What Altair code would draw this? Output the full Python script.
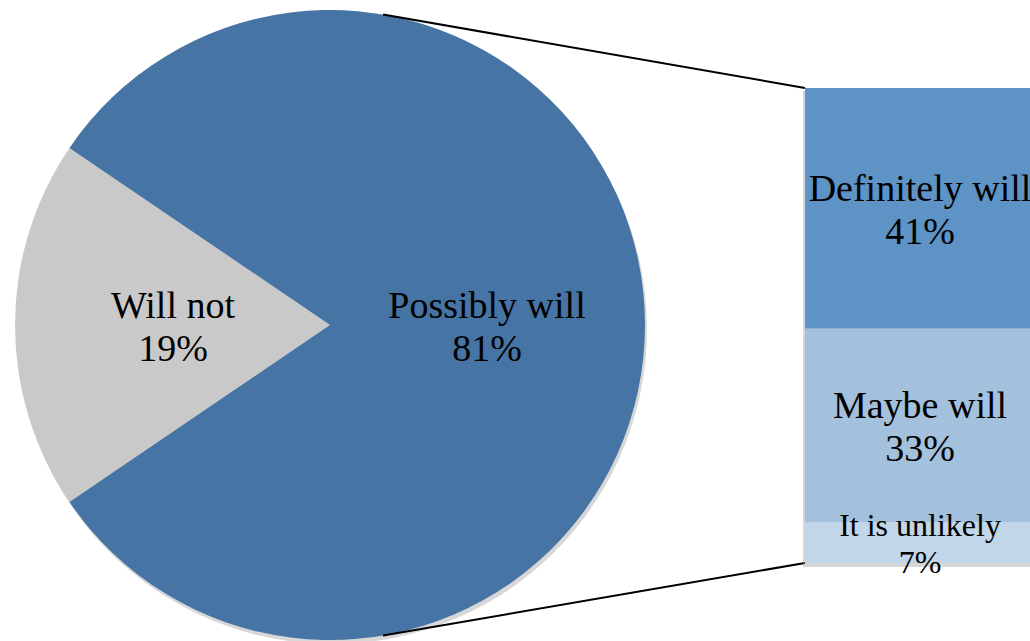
import math
import altair as alt
import pandas as pd

# ---- data ----
pie_cats = ["Will not", "Possibly will"]
pie_vals = [19, 81]
pie_colors = ["#C9C9C9", "#4674A4"]

bar_cats = ["It is unlikely", "Maybe will", "Definitely will"]
bar_vals = [7, 33, 41]
bar_colors = ["#C2D6E9", "#A3C0DD", "#5E93C6"]

# ---- layout ----
W, H = 1030, 641
CX, CY, R = 330, 325, 315
LABEL_R = 157
BAR_X0, BAR_X1 = 805, 1035
BAR_TOP, BAR_BOT = 88, 563
FONT = "Liberation Serif"
BIG, BIG_LH = 38, 43
SMALL, SMALL_LH = 32, 37

# Will-not slice centred at 9 o'clock
a0 = 2 * math.pi * (0.75 - pie_vals[0] / sum(pie_vals) / 2)
theta_scale = alt.Scale(range=[a0, a0 + 2 * math.pi])

pie_df = pd.DataFrame({
    "cat": pie_cats,
    "value": pie_vals,
    "idx": list(range(len(pie_cats))),
    "label": [f"{c}\n{v}%" for c, v in zip(pie_cats, pie_vals)],
})

cum = [0]
for v in bar_vals:
    cum.append(cum[-1] + v)
bar_df = pd.DataFrame({
    "cat": bar_cats,
    "value": bar_vals,
    "y0": cum[:-1],
    "y1": cum[1:],
    "mid": [(a + b) / 2 for a, b in zip(cum[:-1], cum[1:])],
    "label": [f"{c}\n{v}%" for c, v in zip(bar_cats, bar_vals)],
    "big": [c != "It is unlikely" for c in bar_cats],
})
total = cum[-1]
yscale = alt.Scale(domain=[0, total], range=[BAR_BOT, BAR_TOP])

base_pie = alt.Chart(pie_df)

pie_shadow = base_pie.mark_arc(radius=R, color="#9a9a9a", opacity=0.4).encode(
    x=alt.value(CX + 2), y=alt.value(CY + 4),
    theta=alt.Theta("value:Q", stack=True, scale=theta_scale),
    order=alt.Order("idx:Q"),
)

pie = base_pie.mark_arc(radius=R).encode(
    x=alt.value(CX), y=alt.value(CY),
    theta=alt.Theta("value:Q", stack=True, scale=theta_scale),
    color=alt.Color("cat:N", scale=alt.Scale(domain=pie_cats, range=pie_colors), legend=None),
    order=alt.Order("idx:Q"),
)

pie_text = base_pie.mark_text(
    radius=LABEL_R, font=FONT, fontSize=BIG, lineBreak="\n", lineHeight=BIG_LH,
    color="black", align="center", baseline="middle", dy=-BIG_LH / 2 + 3,
).encode(
    x=alt.value(CX), y=alt.value(CY),
    theta=alt.Theta("value:Q", stack=True, scale=theta_scale),
    order=alt.Order("idx:Q"),
    text="label:N",
)

# connector lines from pie rim to bar corners
phi = math.radians(9.7)
px = CX + R * math.sin(phi)
py_top = CY - R * math.cos(phi)
py_bot = CY + R * math.cos(phi)
one = pd.DataFrame({"k": [0]})
line_top = alt.Chart(one).mark_rule(color="black", strokeWidth=2).encode(
    x=alt.value(px), y=alt.value(py_top), x2=alt.value(BAR_X0), y2=alt.value(BAR_TOP))
line_bot = alt.Chart(one).mark_rule(color="black", strokeWidth=2).encode(
    x=alt.value(px), y=alt.value(py_bot), x2=alt.value(BAR_X0), y2=alt.value(BAR_BOT))

bar_shadow = alt.Chart(one).mark_rect(color="#999999", opacity=0.4).encode(
    x=alt.value(BAR_X0 - 2), x2=alt.value(BAR_X1), y=alt.value(BAR_TOP + 3), y2=alt.value(BAR_BOT + 4))

base_bar = alt.Chart(bar_df)
bars = base_bar.mark_rect().encode(
    x=alt.value(BAR_X0), x2=alt.value(BAR_X1),
    y=alt.Y("y0:Q", scale=yscale, axis=None), y2="y1:Q",
    color=alt.Color("cat:N", scale=alt.Scale(domain=bar_cats, range=bar_colors), legend=None),
)

bar_text_big = base_bar.transform_filter("datum.big").mark_text(
    font=FONT, fontSize=BIG, lineBreak="\n", lineHeight=BIG_LH, color="black",
    align="center", baseline="middle", dy=-BIG_LH / 2 + 3,
).encode(
    x=alt.value((BAR_X0 + BAR_X1) / 2),
    y=alt.Y("mid:Q", scale=yscale, axis=None),
    text="label:N",
)
bar_text_small = base_bar.transform_filter("!datum.big").mark_text(
    font=FONT, fontSize=SMALL, lineBreak="\n", lineHeight=SMALL_LH, color="black",
    align="center", baseline="middle", dy=-SMALL_LH / 2 + 2,
).encode(
    x=alt.value((BAR_X0 + BAR_X1) / 2),
    y=alt.Y("mid:Q", scale=yscale, axis=None),
    text="label:N",
)

chart = alt.layer(
    pie_shadow, pie, pie_text, line_top, line_bot, bar_shadow, bars, bar_text_big, bar_text_small
).resolve_scale(color="independent").properties(
    width=W, height=H, padding=0, autosize=alt.AutoSizeParams(type="none"),
    background="white",
).configure_view(stroke=None)

chart.save("out.html", embed_options={"renderer": "svg", "actions": False})
